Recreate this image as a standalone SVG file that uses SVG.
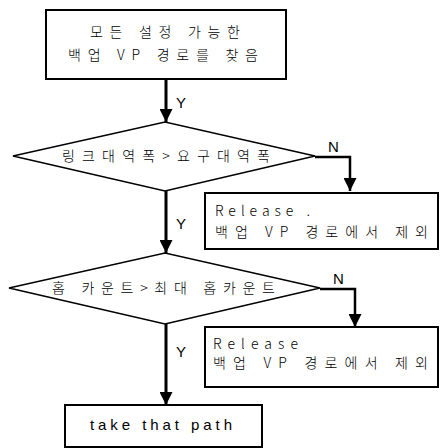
<svg xmlns="http://www.w3.org/2000/svg" width="440" height="448" viewBox="0 0 440 448">
<defs>
<marker id="ah" markerUnits="userSpaceOnUse" markerWidth="13" markerHeight="13" viewBox="0 0 13 13" refX="13" refY="6.5" orient="auto">
<path d="M0,0 L13,6.5 L0,13 Z" fill="#000"/>
</marker>
<style>
.box{fill:#fff;stroke:#000;stroke-width:2}
.dia{fill:#fff;stroke:#000;stroke-width:1.5}
.t{font-family:"Noto Sans CJK KR","Noto Sans",sans-serif;font-size:14px;font-weight:300;fill:#000}
.l{font-family:"Liberation Sans",Arial,sans-serif;font-size:15px;fill:#000}
.c{fill:none;stroke:#000;stroke-width:3}
.n{fill:none;stroke:#000;stroke-width:2.5}
</style>
</defs>
<rect width="440" height="448" fill="#fff"/>
<g id="start">
<rect class="box" x="46" y="10" width="240" height="69"/>
<text class="t" x="165" y="37" text-anchor="middle" textLength="150" lengthAdjust="spacing">모든 설정 가능한</text>
<text class="t" x="163" y="60" text-anchor="middle" textLength="190" lengthAdjust="spacing">백업 VP 경로를 찾음</text>
</g>
<g id="dec1">
<polygon class="dia" points="13,156 165,122 315,156 165,191"/>
<text class="t" x="62" y="161" textLength="208" lengthAdjust="spacing">링크대역폭&gt;요구대역폭</text>
</g>
<g id="rel1">
<rect class="box" x="205" y="193" width="233" height="56"/>
<text class="t" x="215" y="216" textLength="95" lengthAdjust="spacing">Release .</text>
<text class="t" x="215" y="237" textLength="213" lengthAdjust="spacing">백업 VP 경로에서 제외</text>
</g>
<g id="dec2">
<polygon class="dia" points="9,288 165,253 320,288 165,324"/>
<text class="t" x="52" y="293" textLength="223" lengthAdjust="spacing">홉 카운트&gt;최대 홉카운트</text>
</g>
<g id="rel2">
<rect class="box" x="205" y="327" width="233" height="60"/>
<text class="t" x="213" y="349" textLength="85" lengthAdjust="spacing">Release</text>
<text class="t" x="213" y="368" textLength="215" lengthAdjust="spacing">백업 VP 경로에서 제외</text>
</g>
<g id="end">
<rect class="box" x="65" y="405" width="197" height="42"/>
<text class="l" x="161" y="430" text-anchor="middle" textLength="142" lengthAdjust="spacing">take that path</text>
</g>
<g id="connectors">
<line class="c" x1="166" y1="79" x2="166" y2="122" marker-end="url(#ah)"/>
<line class="c" x1="166" y1="191" x2="166" y2="253" marker-end="url(#ah)"/>
<line class="c" x1="166" y1="324" x2="166" y2="405" marker-end="url(#ah)"/>
<polyline class="n" points="315,157 350,157 350,191" marker-end="url(#ah)"/>
<polyline class="n" points="320,289 355,289 355,327" marker-end="url(#ah)"/>
<text class="l" x="176" y="108">Y</text>
<text class="l" x="176" y="229">Y</text>
<text class="l" x="176" y="357">Y</text>
<text class="l" x="328" y="152">N</text>
<text class="l" x="333" y="284">N</text>
</g>
</svg>
